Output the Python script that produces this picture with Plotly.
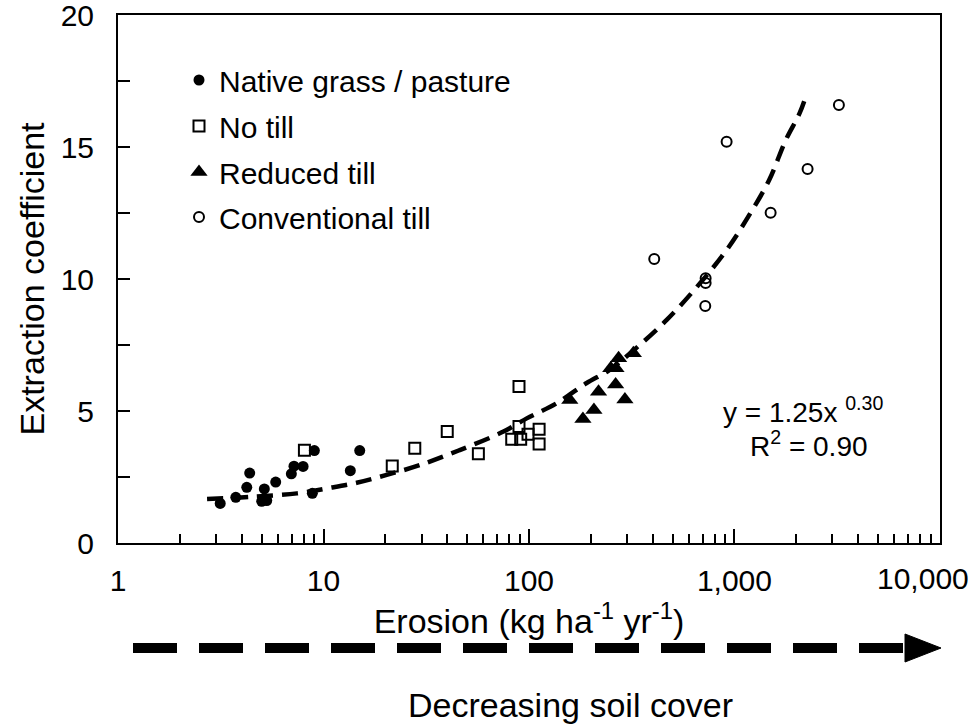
import plotly.graph_objects as go

# ---- data ----
native_x = [3.14, 3.74, 4.23, 4.37, 5.15, 5.00, 5.29, 5.85, 6.97, 7.18, 7.95, 9.02, 8.82, 13.5, 15.0]
native_y = [1.50, 1.73, 2.11, 2.65, 2.05, 1.58, 1.61, 2.31, 2.62, 2.91, 2.90, 3.50, 1.88, 2.74, 3.50]

notill_x = [8.07, 21.6, 27.8, 40.0, 56.7, 89.4, 82.4, 91.1, 89.4, 98.9, 112, 112]
notill_y = [3.51, 2.92, 3.59, 4.22, 3.38, 5.93, 3.93, 3.93, 4.41, 4.12, 4.31, 3.75]

reduced_x = [158, 183, 207, 218, 250, 265, 264, 273, 293, 322]
reduced_y = [5.42, 4.70, 5.04, 5.73, 6.62, 6.62, 6.00, 7.00, 5.44, 7.19]

conv_x = [3224, 916, 2270, 1500, 407, 724, 724, 721]
conv_y = [16.59, 15.20, 14.17, 12.51, 10.76, 10.03, 9.85, 8.98]

fit_x = [2.71, 4.39, 7.42, 10.4, 14.5, 20.3, 29.4, 46.0, 75.1, 97.5, 136, 190, 246, 311,
         468, 680, 916, 1195, 1476, 1779, 2076, 2238]
fit_y = [1.67, 1.75, 1.88, 2.07, 2.28, 2.58, 2.95, 3.52, 4.22, 4.72, 5.29, 6.05, 6.55, 7.19,
         8.45, 9.84, 11.10, 12.49, 13.75, 15.27, 16.28, 16.97]

x_tickvals = [1, 10, 100, 1000, 10000]
x_ticktext = ["1", "10", "100", "1,000", "10,000"]
x_minorvals = [m * d for d in (1, 10, 100, 1000) for m in range(2, 10)]
y_tickvals = [0, 5, 10, 15, 20]
y_minorvals = [2.5, 7.5, 12.5, 17.5]

FONT = "Liberation Sans, Arial, sans-serif"

# plot-area pixel geometry (for placing layout items)
L, R, T, B = 118, 940, 15, 543
PW, PH = R - L, B - T


def px(xp):
    return (xp - L) / PW


def py(yp):
    return (B - yp) / PH


fig = go.Figure()
fig.add_trace(go.Scatter(x=fit_x, y=fit_y, mode="lines", showlegend=False,
                         line=dict(color="black", width=4.5, dash="16px,9px", shape="spline")))
fig.add_trace(go.Scatter(x=native_x, y=native_y, mode="markers", name="Native grass / pasture",
                         legend="legend",
                         marker=dict(symbol="circle", size=11, color="black")))
fig.add_trace(go.Scatter(x=notill_x, y=notill_y, mode="markers", name="No till",
                         legend="legend2",
                         marker=dict(symbol="square-open", size=11, color="black",
                                     line=dict(width=2, color="black"))))
fig.add_trace(go.Scatter(x=reduced_x, y=reduced_y, mode="markers", name="Reduced till",
                         legend="legend3",
                         marker=dict(symbol="triangle-up", size=15, color="black")))
fig.add_trace(go.Scatter(x=conv_x, y=conv_y, mode="markers", name="Conventional till",
                         legend="legend4",
                         marker=dict(symbol="circle-open", size=10, color="black",
                                     line=dict(width=2, color="black"))))


def leg(yc):
    return dict(x=px(179), y=py(yc), xanchor="left", yanchor="middle",
                bgcolor="rgba(0,0,0,0)", font=dict(size=30), itemwidth=30)


fig.update_layout(
    width=974, height=728,
    margin=dict(l=L, r=974 - R, t=T, b=728 - B, autoexpand=False),
    paper_bgcolor="white", plot_bgcolor="white",
    font=dict(family=FONT, size=30, color="black"),
    legend=leg(80), legend2=leg(126), legend3=leg(172), legend4=leg(217),
    xaxis=dict(type="log", range=[-0.0005, 4.0005], tickvals=x_tickvals[:-1], ticktext=x_ticktext[:-1],
               ticks="inside", ticklen=14, tickwidth=2, tickcolor="black",
               showline=True, linewidth=2, linecolor="black", mirror=True,
               showgrid=False, zeroline=False, ticklabelstandoff=10, automargin=False,
               ticklabeloverflow="allow",
               minor=dict(tickmode="array", tickvals=x_minorvals, ticks="inside", ticklen=9,
                          tickwidth=1.5, tickcolor="black", showgrid=False),
               title=dict(text="Erosion (kg ha<sup>-1</sup> yr<sup>-1</sup>)", font=dict(size=34), standoff=10)),
    yaxis=dict(range=[0, 20], tickvals=y_tickvals,
               ticks="inside", ticklen=12, tickwidth=2, tickcolor="black",
               showline=True, linewidth=2, linecolor="black", mirror=True,
               showgrid=False, zeroline=False, ticklabelstandoff=16, automargin=False,
               ticklabeloverflow="allow",
               minor=dict(tickmode="array", tickvals=y_minorvals, ticks="inside", ticklen=12,
                          tickwidth=2, tickcolor="black", showgrid=False),
               title=dict(text="Extraction coefficient", font=dict(size=34), standoff=6)),
)

# last x tick label, shifted left to stay on the page as in the reference
fig.add_annotation(x=px(971), y=py(578), xref="paper", yref="paper", xanchor="right", yanchor="middle",
                   text=x_ticktext[-1], showarrow=False, font=dict(size=30))

# equation text
fig.add_annotation(x=px(803), y=py(410), xref="paper", yref="paper", xanchor="center", yanchor="middle",
                   text="y = 1.25x <sup>0.30</sup>", showarrow=False, font=dict(size=28))
fig.add_annotation(x=px(809), y=py(444), xref="paper", yref="paper", xanchor="center", yanchor="middle",
                   text="R<sup>2</sup> = 0.90", showarrow=False, font=dict(size=28))

# arrow below the axis
ya = py(648)
fig.add_shape(type="line", xref="paper", yref="paper",
              x0=px(133), x1=px(912), y0=ya, y1=ya,
              line=dict(color="black", width=10, dash="44px,22px"))
h = 14 / PH
fig.add_shape(type="path", xref="paper", yref="paper",
              path=f"M {px(905)} {ya - h} L {px(941)} {ya} L {px(905)} {ya + h} Z",
              fillcolor="black", line=dict(color="black", width=1))
fig.add_annotation(x=px(570), y=py(705), xref="paper", yref="paper", xanchor="center", yanchor="middle",
                   text="Decreasing soil cover", showarrow=False, font=dict(size=34))

fig.write_html("out.html")
